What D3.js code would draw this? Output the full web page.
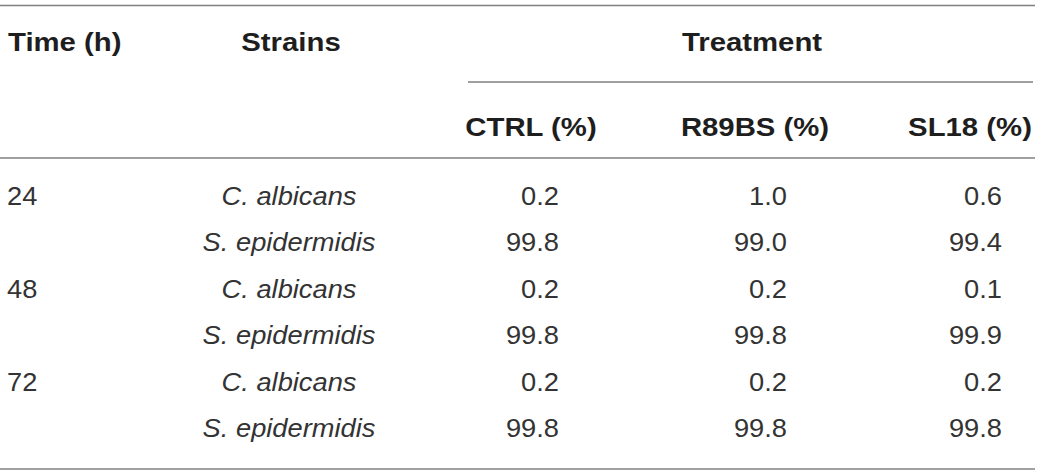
<!DOCTYPE html>
<html>
<head>
<meta charset="utf-8">
<script src="https://cdn.jsdelivr.net/npm/d3@7"></script>
<style>
  html, body { margin: 0; padding: 0; background: #fff; }
  svg text { font-family: "Liberation Sans", Arial, Helvetica, sans-serif; }
</style>
</head>
<body>
<div id="table"></div>
<script>
// Data
const times      = ["24", "", "48", "", "72", ""];
const strains    = ["C. albicans", "S. epidermidis", "C. albicans", "S. epidermidis", "C. albicans", "S. epidermidis"];
const ctrl       = [0.2, 99.8, 0.2, 99.8, 0.2, 99.8];
const r89bs      = [1.0, 99.0, 0.2, 99.8, 0.2, 99.8];
const sl18       = [0.6, 99.4, 0.1, 99.9, 0.2, 99.8];
const treatments = ["CTRL (%)", "R89BS (%)", "SL18 (%)"];
const groupLabel = "Treatment";
const colLabels  = ["Time (h)", "Strains"];

const width = 1042, height = 472;
const fs = 25.5;
const sxBody = 1.07, sxHead = 1.15;   // horizontal stretch of the source type
const rule = "#808080", ink = "#333", headInk = "#1e1e1e";

const svg = d3.select("#table").append("svg")
    .attr("width", width)
    .attr("height", height);

// Row positions
const rows = d3.scalePoint()
    .domain(d3.range(strains.length))
    .range([196, 428]);

// Treatment columns: right edge of numbers, centre of header
const numRight = d3.scaleOrdinal().domain(treatments).range([559, 787, 1002]);
const headMid  = d3.scaleOrdinal().domain(treatments).range([531, 755, 970]);

const put = (sel, x, y, sx = sxBody, fill = ink) => sel
    .attr("transform", `translate(${x},${y}) scale(${sx},1)`)
    .attr("dy", "0.35em")
    .attr("font-size", fs)
    .attr("fill", fill);

const putHead = (sel, x, y) => put(sel, x, y, sxHead, headInk);

// Rules
const hline = (x1, x2, y) => svg.append("line")
    .attr("x1", x1).attr("x2", x2)
    .attr("y1", y).attr("y2", y)
    .attr("stroke", rule)
    .attr("stroke-width", 1.5);

hline(0, 1035, 5.5);
hline(468, 1033, 82);
hline(0, 1035, 158);
hline(0, 1035, 469);

// Header
const head = svg.append("g").attr("font-weight", "bold");
head.append("text").text(colLabels[0]).call(putHead, 8, 42);
head.append("text").text(colLabels[1]).call(putHead, 291, 42).attr("text-anchor", "middle");
head.append("text").text(groupLabel).call(putHead, 752, 42).attr("text-anchor", "middle");
head.selectAll(".th")
    .data(treatments)
    .join("text")
    .attr("class", "th")
    .attr("text-anchor", "middle")
    .text(d => d)
    .each(function (d) { d3.select(this).call(putHead, headMid(d), 127); });

// Body
const body = svg.append("g");
body.selectAll(".time")
    .data(times)
    .join("text")
    .attr("class", "time")
    .text(d => d)
    .each(function (d, i) { d3.select(this).call(put, 7, rows(i)); });

body.selectAll(".strain")
    .data(strains)
    .join("text")
    .attr("class", "strain")
    .attr("text-anchor", "middle")
    .attr("font-style", "italic")
    .each(function (d, i) {
        const [genus, species] = d.split(" ");
        const t = d3.select(this).call(put, 289, rows(i));
        t.append("tspan").text(genus + " ");
        t.append("tspan").text(species);
    });

const series = [ctrl, r89bs, sl18];
series.forEach((vals, k) => {
    body.selectAll(`.v${k}`)
        .data(vals)
        .join("text")
        .attr("class", `v${k}`)
        .attr("text-anchor", "end")
        .text(d => d3.format(".1f")(d))
        .each(function (d, i) { d3.select(this).call(put, numRight(treatments[k]), rows(i)); });
});
</script>
</body>
</html>
